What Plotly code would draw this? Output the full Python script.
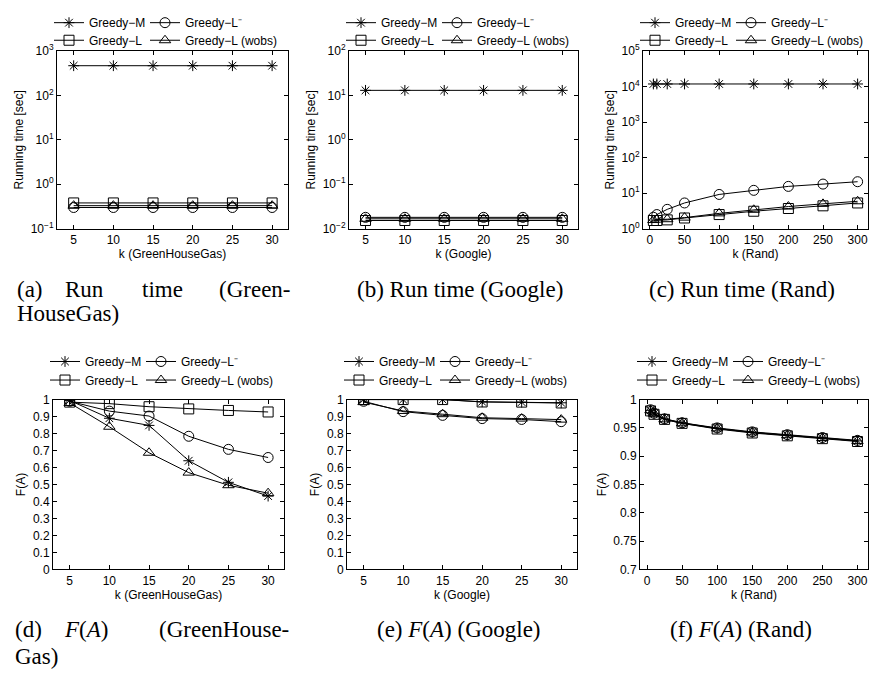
import plotly.graph_objects as go

W, H = 870, 679

# ---------------- data ----------------
k_small = [5, 10, 15, 20, 25, 30]
k_rand = [5, 10, 25, 50, 100, 150, 200, 250, 300]

series_names = ["Greedy−M", "Greedy−L⁻", "Greedy−L", "Greedy−L (wobs)"]

# (a) running time, GreenHouseGas [sec]
time_ghg_M = [466, 466, 466, 466, 466, 466]
time_ghg_Lm = [0.30, 0.30, 0.30, 0.30, 0.30, 0.30]
time_ghg_L = [0.38, 0.38, 0.38, 0.38, 0.38, 0.38]
time_ghg_Lw = [0.33, 0.33, 0.33, 0.33, 0.33, 0.33]

# (b) running time, Google [sec]
time_goo_M = [13, 13, 13, 13, 13, 13]
time_goo_Lm = [0.018, 0.018, 0.018, 0.018, 0.018, 0.018]
time_goo_L = [0.0153, 0.0153, 0.0153, 0.0153, 0.0153, 0.0153]
time_goo_Lw = [0.0167, 0.0167, 0.0167, 0.0167, 0.0167, 0.0167]

# (c) running time, Rand [sec]
time_rand_M = [11800, 11800, 11800, 11800, 11800, 11800, 11800, 11800, 11800]
time_rand_Lm = [2.1, 2.5, 3.5, 5.3, 9.2, 12.0, 15.5, 18.0, 21.0]
time_rand_L = [1.7, 1.7, 1.77, 2.0, 2.5, 3.1, 3.7, 4.4, 5.3]
time_rand_Lw = [1.75, 1.8, 1.85, 2.05, 2.7, 3.4, 4.2, 5.0, 5.9]

# (d) F(A), GreenHouseGas
f_ghg_M = [0.995, 0.89, 0.848, 0.64, 0.513, 0.432]
f_ghg_Lm = [0.99, 0.932, 0.903, 0.784, 0.707, 0.659]
f_ghg_L = [0.985, 0.976, 0.958, 0.945, 0.936, 0.927]
f_ghg_Lw = [0.98, 0.84, 0.687, 0.57, 0.496, 0.449]

# (e) F(A), Google
f_goo_M = [1.0, 1.0, 1.0, 0.987, 0.985, 0.981]
f_goo_Lm = [0.99, 0.929, 0.907, 0.888, 0.883, 0.87]
f_goo_L = [1.0, 1.0, 1.0, 0.986, 0.985, 0.980]
f_goo_Lw = [0.985, 0.933, 0.914, 0.893, 0.888, 0.882]

# (f) F(A), Rand
f_rand_M = [0.981, 0.975, 0.966, 0.959, 0.949, 0.942, 0.937, 0.932, 0.927]
f_rand_Lm = [0.982, 0.976, 0.966, 0.959, 0.950, 0.943, 0.938, 0.933, 0.928]
f_rand_L = [0.980, 0.974, 0.965, 0.958, 0.948, 0.941, 0.936, 0.931, 0.926]
f_rand_Lw = [0.981, 0.975, 0.965, 0.958, 0.949, 0.942, 0.937, 0.932, 0.927]

# tick labels
ghg_time_ticks = [0.1, 1, 10, 100, 1000]
ghg_time_text = ["10<sup>−1</sup>", "10<sup>0</sup>", "10<sup>1</sup>", "10<sup>2</sup>", "10<sup>3</sup>"]
goo_time_ticks = [0.01, 0.1, 1, 10, 100]
goo_time_text = ["10<sup>−2</sup>", "10<sup>−1</sup>", "10<sup>0</sup>", "10<sup>1</sup>", "10<sup>2</sup>"]
rand_time_ticks = [1, 10, 100, 1000, 10000, 100000]
rand_time_text = ["10<sup>0</sup>", "10<sup>1</sup>", "10<sup>2</sup>", "10<sup>3</sup>",
                  "10<sup>4</sup>", "10<sup>5</sup>"]
x_small_ticks = [5, 10, 15, 20, 25, 30]
x_rand_ticks = [0, 50, 100, 150, 200, 250, 300]
f_ticks_full = [0, 0.1, 0.2, 0.3, 0.4, 0.5, 0.6, 0.7, 0.8, 0.9, 1]
f_ticks_rand = [0.7, 0.75, 0.8, 0.85, 0.9, 0.95, 1]

x_titles = ["k (GreenHouseGas)", "k (Google)", "k (Rand)"]

# ---------------- style / layout ----------------
symbols = ["asterisk-open", "circle-open", "square-open", "triangle-up-open"]
msizes = [9, 10, 10, 10]
SANS = "Liberation Sans, Arial, sans-serif"
SERIF = "Liberation Serif, Times New Roman, serif"

panels = [
    dict(x=k_small, ys=[time_ghg_M, time_ghg_Lm, time_ghg_L, time_ghg_Lw], box=(57, 288, 43, 225),
         log=True, yrange=[-1, 3], xrange=[2.9, 32], xticks=x_small_ticks, xt=x_titles[0],
         yt="Running time [sec]", yticks=ghg_time_ticks, ytext=ghg_time_text),
    dict(x=k_small, ys=[time_goo_M, time_goo_Lm, time_goo_L, time_goo_Lw], box=(349, 578, 43, 225),
         log=True, yrange=[-2, 2], xrange=[2.9, 32], xticks=x_small_ticks, xt=x_titles[1],
         yt="Running time [sec]", yticks=goo_time_ticks, ytext=goo_time_text),
    dict(x=k_rand, ys=[time_rand_M, time_rand_Lm, time_rand_L, time_rand_Lw], box=(643, 868, 43, 225),
         log=True, yrange=[0, 5], xrange=[-10, 315], xticks=x_rand_ticks, xt=x_titles[2],
         yt="Running time [sec]", yticks=rand_time_ticks, ytext=rand_time_text),
    dict(x=k_small, ys=[f_ghg_M, f_ghg_Lm, f_ghg_L, f_ghg_Lw], box=(53, 284, 400, 574),
         log=False, yrange=[0, 1], xrange=[2.9, 32], xticks=x_small_ticks, xt=x_titles[0],
         yt="F(A)", yticks=f_ticks_full, ytext=None),
    dict(x=k_small, ys=[f_goo_M, f_goo_Lm, f_goo_L, f_goo_Lw], box=(347, 577, 400, 574),
         log=False, yrange=[0, 1], xrange=[2.9, 32], xticks=x_small_ticks, xt=x_titles[1],
         yt="F(A)", yticks=f_ticks_full, ytext=None),
    dict(x=k_rand, ys=[f_rand_M, f_rand_Lm, f_rand_L, f_rand_Lw], box=(640, 868, 400, 574),
         log=False, yrange=[0.7, 1], xrange=[-10, 315], xticks=x_rand_ticks, xt=x_titles[2],
         yt="F(A)", yticks=f_ticks_rand, ytext=None),
]

fig = go.Figure()
layout = {}


def lkey(i):
    return "legend" if i == 0 else f"legend{i + 1}"


for p, pan in enumerate(panels):
    xa = "x" if p == 0 else f"x{p + 1}"
    ya = "y" if p == 0 else f"y{p + 1}"
    l, r, t, b = pan["box"]
    rows_y = (14, 32) if p < 3 else (361, 380)
    for s in range(4):
        row = 0 if s < 2 else 1
        col = s % 2
        li = 4 * p + s
        fig.add_trace(go.Scatter(
            x=pan["x"], y=pan["ys"][s], name=series_names[s], mode="lines+markers",
            xaxis=xa, yaxis=ya, legend=lkey(li),
            line=dict(color="black", width=1),
            marker=dict(symbol=symbols[s], size=msizes[s], color="black",
                        line=dict(color="black", width=1)),
            hoverinfo="skip",
        ))
        text_x = l + 32 + 96 * col
        layout[lkey(li)] = dict(
            orientation="h", x=(text_x - 40) / W, xanchor="left",
            y=1 - rows_y[row] / H, yanchor="middle",
            bgcolor="rgba(0,0,0,0)", borderwidth=0,
            font=dict(family=SANS, size=12, color="black"),
            tracegroupgap=0,
        )
    axis_common = dict(showline=True, linecolor="black", linewidth=1, mirror="ticks",
                       ticks="inside", ticklen=4, tickcolor="black", tickwidth=1,
                       showgrid=False, zeroline=False,
                       tickfont=dict(family=SANS, size=12, color="black"))
    xname = "xaxis" if p == 0 else f"xaxis{p + 1}"
    yname = "yaxis" if p == 0 else f"yaxis{p + 1}"
    layout[xname] = dict(axis_common, domain=[l / W, r / W], anchor=ya, range=pan["xrange"],
                         tickmode="array", tickvals=pan["xticks"],
                         title=dict(text=pan["xt"], standoff=2,
                                    font=dict(family=SANS, size=12, color="black")))
    ydict = dict(axis_common, domain=[1 - b / H, 1 - t / H], anchor=xa, range=pan["yrange"],
                 title=dict(text=pan["yt"], standoff=4,
                            font=dict(family=SANS, size=12, color="black")))
    if pan["log"]:
        ydict.update(type="log", tickmode="array", tickvals=pan["yticks"], ticktext=pan["ytext"])
    else:
        ydict.update(tickmode="array", tickvals=pan["yticks"])
    layout[yname] = ydict

# captions
cap_font = dict(family=SERIF, size=23, color="black")
annotations = []


def word(text, xpx, ypx, anchor):
    annotations.append(dict(text=text, x=xpx / W, y=1 - ypx / H, xref="paper", yref="paper",
                            xanchor=anchor, yanchor="middle", showarrow=False, font=cap_font))


word("(a)", 15, 287, "left")
word("Run", 63, 287, "left")
word("time", 140, 287, "left")
word("(Green-", 293, 287, "right")
word("HouseGas)", 15, 312, "left")
word("(b) Run time (Google)", 460, 287, "center")
word("(c) Run time (Rand)", 742, 287, "center")
word("(d)", 13, 635, "left")
word("<i>F</i>(<i>A</i>)", 62, 635, "left")
word("(GreenHouse-", 291, 635, "right")
word("Gas)", 13, 663, "left")
word("(e) <i>F</i>(<i>A</i>) (Google)", 459, 635, "center")
word("(f) <i>F</i>(<i>A</i>) (Rand)", 741, 635, "center")

fig.update_layout(
    width=W, height=H, margin=dict(l=0, r=0, t=0, b=0),
    paper_bgcolor="white", plot_bgcolor="white",
    showlegend=True, annotations=annotations, hovermode=False,
    **layout,
)

fig.write_html("out.html", config={"displayModeBar": False},
               post_script="document.body.style.margin='0';document.body.style.overflow='hidden';")
